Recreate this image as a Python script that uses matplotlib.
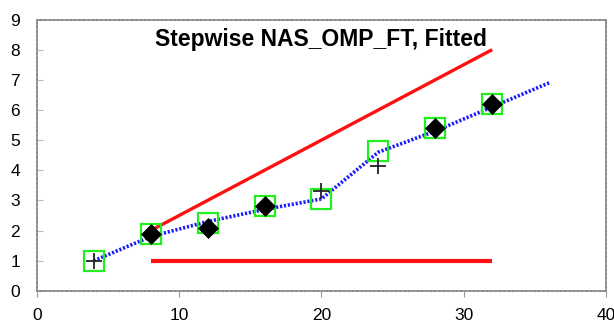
import matplotlib
matplotlib.use("Agg")
import matplotlib.pyplot as plt

# threads vs. speedup
fit_x = [4, 8, 12, 16, 20, 24, 28, 32, 36]
fit_y = [1.0, 1.8, 2.3, 2.7, 3.05, 4.6, 5.3, 6.1, 6.9]

ideal_x = [8, 32]
ideal_y = [2, 8]

base_x = [8, 32]
base_y = [1, 1]

meas_x = [8, 12, 16, 28, 32]
meas_y = [1.9, 2.1, 2.8, 5.4, 6.2]

box_x = [4, 8, 12, 16, 20, 24, 28, 32]
box_y = [1.0, 1.9, 2.25, 2.8, 3.05, 4.65, 5.4, 6.2]

plus_x = [4, 20, 24]
plus_y = [1.0, 3.3, 4.15]

plt.rcParams['font.family'] = ['Liberation Sans', 'DejaVu Sans']

fig = plt.figure(figsize=(6.14, 3.25), dpi=100)
ax = fig.add_axes([0.060, 0.105, 0.927, 0.835])

ax.plot(ideal_x, ideal_y, color='#ff1010', lw=2.4, solid_capstyle='butt')
ax.plot(base_x, base_y, color='#ff1010', lw=3.0, solid_capstyle='butt')
ax.plot(fit_x, fit_y, color='#1a1aff', lw=2.6, ls=(0, (0.6, 0.5)))
ax.plot(box_x, box_y, ls='none', marker='s', ms=14.5, mfc='none',
        mec='#22ee22', mew=1.6)
ax.plot(meas_x, meas_y, ls='none', marker='D', ms=10.5, mew=0.5, color='black')
ax.plot(plus_x, plus_y, ls='none', marker='+', ms=12, mew=1.3, color='#222222')

ax.set_xlim(0, 40)
ax.set_ylim(0, 9)
ax.set_xticks([0, 10, 20, 30, 40])
ax.set_yticks(range(10))
ax.tick_params(axis='x', direction='out', length=4, color='#999999',
               labelsize=12.5, pad=8)
ax.tick_params(axis='y', direction='in', length=4, color='#bbbbbb',
               labelsize=12.5, pad=12)
for s in ax.spines.values():
    s.set_color('#888888')
    s.set_linewidth(1.2)
    s.set_linestyle((0, (2, 0.6)))

ax.text(0.5, 0.925, 'Stepwise NAS_OMP_FT, Fitted', transform=ax.transAxes,
        ha='center', va='center', fontsize=16.5, fontweight='bold')

fig.savefig('out.png', dpi=100)
